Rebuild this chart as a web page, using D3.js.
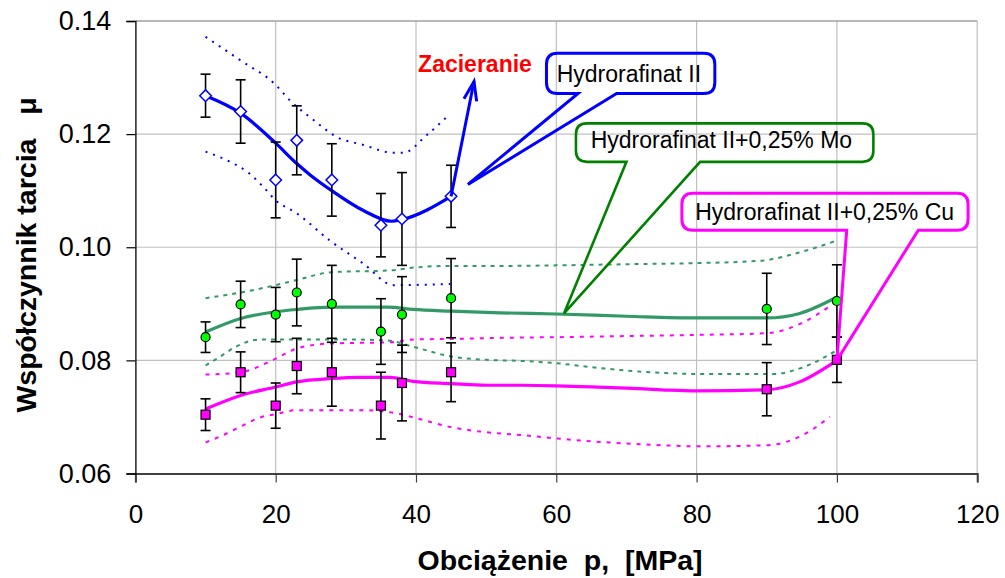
<!DOCTYPE html>
<html><head><meta charset="utf-8">
<script src="https://cdn.jsdelivr.net/npm/d3@7"></script>
<style>
body{margin:0;background:#fff}
text{font-family:Arial,"Liberation Sans",sans-serif}
</style>
</head><body>
<svg id="chart" width="1005" height="578"></svg>
<script>
// ---------- data ----------
const xTicks = [0, 20, 40, 60, 80, 100, 120];
const yTicks = [0.06, 0.08, 0.10, 0.12, 0.14];
const yTickLabels = ["0.06", "0.08", "0.10", "0.12", "0.14"];

const pressureBase = [10, 15, 20, 23, 28, 35, 38, 45];
const muBase  = [0.1268, 0.1240, 0.1119, 0.1189, 0.1119, 0.1039, 0.1050, 0.1090];
const errBase = [0.0038, 0.0056, 0.0067, 0.0061, 0.0064, 0.0056, 0.0082, 0.0055];

const pressureAdd = [10, 15, 20, 23, 28, 35, 38, 45, 90, 100];
const muMo  = [0.0841, 0.0899, 0.0881, 0.0920, 0.0900, 0.0851, 0.0881, 0.0910, 0.0891, 0.0905];
const errMo = [0.0027, 0.0041, 0.0048, 0.0059, 0.0068, 0.0058, 0.0067, 0.0070, 0.0063, 0.0064];
const muCu  = [0.0704, 0.0779, 0.0720, 0.0790, 0.0779, 0.0720, 0.0760, 0.0779, 0.0749, 0.0801];
const errCu = [0.0028, 0.0036, 0.0040, 0.0049, 0.0060, 0.0059, 0.0067, 0.0052, 0.0047, 0.0040];

// trend lines [p, mu]
const trendBase = [[10,0.1268],[15,0.1237],[20,0.1184],[23,0.1148],[25,0.1127],[28,0.1100],[32.5,0.1065],[36.5,0.1046],[38,0.1049],[45,0.1090]];
const upperBase = [[10,0.1372],[14.9,0.1331],[20,0.1287],[22,0.1260],[25.4,0.1225],[28.7,0.1195],[32.5,0.1181],[36.8,0.1167],[38.2,0.1167],[41.5,0.1198],[44.7,0.1234]];
const lowerBase = [[10,0.1169],[13.5,0.1151],[16.3,0.1130],[18.2,0.1107],[20,0.1083],[23,0.1060],[27.7,0.1012],[32.5,0.0971],[36.8,0.0933],[44.9,0.0935]];

const trendMo = [[10,0.0850],[15,0.0874],[20,0.0886],[23,0.0890],[28,0.0894],[36,0.0894],[39.6,0.0890],[45,0.0887],[52,0.0884],[60,0.0882],[70,0.0878],[80,0.0875],[90,0.0875],[94.7,0.0883],[100,0.0912]];
const upperMo = [[10,0.0910],[15,0.0920],[20,0.0933],[23,0.0942],[28,0.0956],[36.3,0.0959],[39.6,0.0964],[45,0.0967],[53,0.0967],[60,0.0968],[70,0.0970],[80,0.0972],[89,0.0976],[95,0.0992],[100,0.1012]];
const lowerMo = [[10,0.0791],[12,0.0806],[14,0.0822],[16,0.0833],[18,0.0837],[30,0.0837],[36,0.0835],[39.6,0.0824],[45,0.0807],[50,0.0801],[55,0.0799],[60,0.0795],[65,0.0788],[70,0.0782],[75,0.0778],[80,0.0776],[91,0.0776],[95,0.0787],[100,0.0818]];

const trendCu = [[10,0.0714],[15,0.0738],[20,0.0753],[23,0.0762],[28,0.0768],[32,0.0770],[36.3,0.0770],[39.6,0.0763],[45,0.0759],[50,0.0756],[55,0.0756],[60,0.0755],[65,0.0753],[70,0.0751],[75,0.0748],[80,0.0746],[90,0.0748],[94.7,0.0762],[100,0.0800]];
const upperCu = [[10,0.0775],[15,0.0779],[20,0.0803],[23,0.0821],[28,0.0830],[36.3,0.0832],[39.6,0.0837],[45,0.0838],[53,0.0840],[60,0.0841],[70,0.0843],[80,0.0845],[90,0.0848],[95,0.0866],[99.5,0.0900]];
const lowerCu = [[10,0.0655],[12,0.0665],[15,0.0683],[18,0.0700],[20,0.0705],[23,0.0712],[32,0.0712],[37,0.0707],[40,0.0698],[45,0.0682],[50,0.0673],[55,0.0668],[60,0.0662],[65,0.0657],[70,0.0653],[75,0.0650],[80,0.0648],[90,0.0650],[95,0.0667],[99,0.0700]];

// annotations
const labelBase = "Hydrorafinat II";
const labelMo = "Hydrorafinat II+0,25% Mo";
const labelCu = "Hydrorafinat II+0,25% Cu";
const seizureLabel = "Zacieranie";

// ---------- drawing ----------
const svg = d3.select("#chart");
const x = d3.scaleLinear().domain([0, 120]).range([135.4, 977.2]);
const y = d3.scaleLinear().domain([0.06, 0.14]).range([473.5, 21]);

// gridlines
svg.append("g").selectAll("line").data(xTicks.filter(d => d > 0)).join("line")
  .attr("x1", d => x(d)).attr("x2", d => x(d)).attr("y1", y(0.14)).attr("y2", y(0.06))
  .attr("stroke", "#c0c0c0").attr("stroke-width", 1.2);
svg.append("g").selectAll("line").data(yTicks.filter(d => d > 0.06)).join("line")
  .attr("x1", x(0)).attr("x2", x(120)).attr("y1", d => y(d)).attr("y2", d => y(d))
  .attr("stroke", d => d === 0.14 ? "#a0a0a0" : "#c0c0c0").attr("stroke-width", d => d === 0.14 ? 1.6 : 1.2);

// axes
const xAxis = svg.append("g").attr("transform", `translate(0,${y(0.06)})`)
  .call(d3.axisBottom(x).tickValues(xTicks).tickSize(9).tickPadding(22).tickFormat(d3.format("d")));
xAxis.select(".domain").attr("stroke", "#404040").attr("stroke-width", 2);
xAxis.selectAll(".tick line").attr("stroke", "#404040").attr("stroke-width", 1.2);
xAxis.selectAll(".tick text").attr("font-size", 26).attr("fill", "#000")
  .style("font-family", "Arial, 'Liberation Sans', sans-serif");

const yAxis = svg.append("g").attr("transform", `translate(${x(0)},0)`)
  .call(d3.axisLeft(y).tickValues(yTicks).tickSize(9).tickPadding(15).tickFormat((d, i) => yTickLabels[i]));
yAxis.select(".domain").attr("stroke", "#000").attr("stroke-width", 1.3);
yAxis.selectAll(".tick line").attr("stroke", "#000").attr("stroke-width", 1.2);
yAxis.selectAll(".tick text").attr("font-size", 27).attr("fill", "#000")
  .style("font-family", "Arial, 'Liberation Sans', sans-serif");

// axis titles
svg.append("text").attr("x", 560).attr("y", 570).attr("text-anchor", "middle")
  .attr("font-size", 28.5).attr("font-weight", "bold").style("white-space", "pre")
  .text("Obciążenie  p,  [MPa]");
svg.append("text").attr("transform", "translate(36,255) rotate(-90)").attr("text-anchor", "middle")
  .attr("font-size", 28.5).attr("font-weight", "bold").style("white-space", "pre")
  .text("Współczynnik tarcia   μ");

const line = d3.line().x(d => x(d[0])).y(d => y(d[1])).curve(d3.curveMonotoneX);

// confidence bands
function band(data, color, dash, w) {
  svg.append("path").attr("d", line(data)).attr("fill", "none").attr("stroke", color)
    .attr("stroke-width", w).attr("stroke-dasharray", dash);
}
band(upperBase, "#0000ff", "2,6", 2);
band(lowerBase, "#0000ff", "2,6", 2);
band(upperMo, "#339966", "4,5", 2);
band(lowerMo, "#339966", "4,5", 2);
band(upperCu, "#ff00ff", "4,6", 2);
band(lowerCu, "#ff00ff", "4,6", 2);

// trend lines
function trend(data, color) {
  svg.append("path").attr("d", line(data)).attr("fill", "none").attr("stroke", color)
    .attr("stroke-width", 3.2).attr("stroke-linejoin", "round");
}
trend(trendBase, "#0000ff");
trend(trendMo, "#339966");
trend(trendCu, "#ff00ff");

// error bars
function errorBars(px, mu, err) {
  const g = svg.append("g").attr("stroke", "#000").attr("stroke-width", 1.6);
  px.forEach((p, i) => {
    const cx = x(p), t = y(mu[i] + err[i]), b = y(mu[i] - err[i]);
    g.append("line").attr("x1", cx).attr("x2", cx).attr("y1", t).attr("y2", b);
    g.append("line").attr("x1", cx - 5).attr("x2", cx + 5).attr("y1", t).attr("y2", t);
    g.append("line").attr("x1", cx - 5).attr("x2", cx + 5).attr("y1", b).attr("y2", b);
  });
}
errorBars(pressureBase, muBase, errBase);
errorBars(pressureAdd, muMo, errMo);
errorBars(pressureAdd, muCu, errCu);

// markers
const diamond = d3.symbol().type(d3.symbolDiamond2).size(85);
svg.append("g").selectAll("path").data(pressureBase).join("path")
  .attr("transform", (d, i) => `translate(${x(d)},${y(muBase[i])})`)
  .attr("d", diamond).attr("fill", "#fff").attr("stroke", "#0000ff").attr("stroke-width", 1.5);
svg.append("g").selectAll("circle").data(pressureAdd).join("circle")
  .attr("cx", d => x(d)).attr("cy", (d, i) => y(muMo[i])).attr("r", 4.5)
  .attr("fill", "#00ff00").attr("stroke", "#000").attr("stroke-width", 1.2);
svg.append("g").selectAll("rect").data(pressureAdd).join("rect")
  .attr("x", d => x(d) - 4.5).attr("y", (d, i) => y(muCu[i]) - 4.5).attr("width", 9).attr("height", 9)
  .attr("fill", "#ff00ff").attr("stroke", "#000").attr("stroke-width", 1.2);

// seizure arrow
const arrowFrom = [45, 0.1090], arrowTo = [48.27, 0.1293];
const ax0 = x(arrowFrom[0]), ay0 = y(arrowFrom[1]), ax1 = x(arrowTo[0]), ay1 = y(arrowTo[1]);
svg.append("line").attr("x1", ax0).attr("y1", ay0).attr("x2", ax1).attr("y2", ay1)
  .attr("stroke", "#0000ff").attr("stroke-width", 3);
{
  const ang = Math.atan2(ay1 - ay0, ax1 - ax0), L = 20, spread = 0.33;
  const p1 = [ax1 - L * Math.cos(ang - spread), ay1 - L * Math.sin(ang - spread)];
  const p2 = [ax1 - L * Math.cos(ang + spread), ay1 - L * Math.sin(ang + spread)];
  svg.append("path").attr("d", `M${p1[0]},${p1[1]}L${ax1},${ay1}L${p2[0]},${p2[1]}`)
    .attr("fill", "none").attr("stroke", "#0000ff").attr("stroke-width", 3).attr("stroke-linejoin", "miter");
}
svg.append("text").attr("x", x(40.3)).attr("y", y(0.1310)).attr("font-size", 23).attr("font-weight", "bold")
  .attr("fill", "#ff0000").text(seizureLabel);

// callouts
function callout(box, legs, tip, textPos, label, color, w) {
  const x0 = x(box[0]), x1 = x(box[1]), y0 = y(box[2]), y1 = y(box[3]);
  const r = 11;
  const l1 = x(legs[0]), l2 = x(legs[1]), tx = x(tip[0]), ty = y(tip[1]);
  const d = `M${x0 + r},${y0} H${x1 - r} Q${x1},${y0} ${x1},${y0 + r} V${y1 - r} Q${x1},${y1} ${x1 - r},${y1}` +
    ` H${l2} L${tx},${ty} L${l1},${y1} H${x0 + r} Q${x0},${y1} ${x0},${y1 - r} V${y0 + r} Q${x0},${y0} ${x0 + r},${y0} Z`;
  svg.append("path").attr("d", d).attr("fill", "none").attr("stroke", color).attr("stroke-width", w)
    .attr("stroke-linejoin", "miter");
  svg.append("text").attr("x", x(textPos[0])).attr("y", y(textPos[1])).attr("font-size", 23)
    .attr("fill", "#000").text(label);
}
callout([58.6, 82.6, 0.1343, 0.1272], [63.1, 68.6], [47.4, 0.1111], [60.05, 0.1292], labelBase, "#0000ff", 3);
callout([62.8, 105.2, 0.1219, 0.1151], [70.0, 80.5], [61.1, 0.0883], [64.9, 0.1176], labelMo, "#008000", 2.6);
callout([77.9, 118.7, 0.10956, 0.10301], [101.4, 111.6], [100.0, 0.0800], [79.8, 0.1049], labelCu, "#ff00ff", 3);
</script>
</body></html>
